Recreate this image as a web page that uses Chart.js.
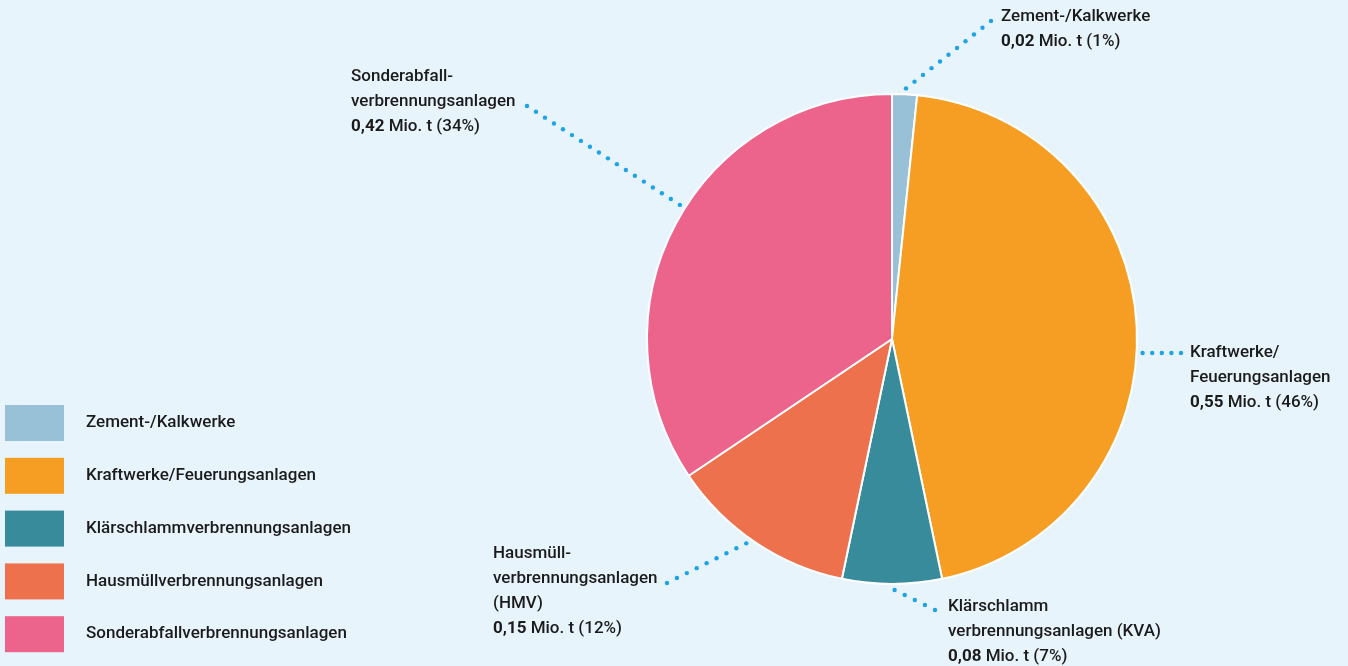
<!DOCTYPE html>
<html>
<head>
<meta charset="utf-8">
<script src="https://cdn.jsdelivr.net/npm/chart.js@4"></script>
<style>
  html, body { margin: 0; padding: 0; background: #e8f4fc; }
  #wrap { width: 1348px; height: 666px; position: relative; }
</style>
</head>
<body>
<div id="wrap"><canvas id="c" width="1348" height="666"></canvas></div>
<script>
// ---- data ----
const categories = ['Zement-/Kalkwerke', 'Kraftwerke/Feuerungsanlagen', 'Klärschlammverbrennungsanlagen', 'Hausmüllverbrennungsanlagen', 'Sonderabfallverbrennungsanlagen'];
const values = [0.02, 0.55, 0.08, 0.15, 0.42];           // Mio. t
const valueLabels = ['0,02', '0,55', '0,08', '0,15', '0,42'];
const percentLabels = ['1%', '46%', '7%', '12%', '34%'];
const calloutNames = [
  ['Zement-/Kalkwerke'],
  ['Kraftwerke/', 'Feuerungsanlagen'],
  ['Klärschlamm', 'verbrennungsanlagen (KVA)'],
  ['Hausmüll-', 'verbrennungsanlagen', '(HMV)'],
  ['Sonderabfall-', 'verbrennungsanlagen']
];
const unitText = ' Mio. t';

// ---- styles / layout ----
const colors = ['#98c1d8', '#f59e23', '#378b9b', '#ed714d', '#ec648c'];
const textColor = '#1b1b1b';
const dotColor = '#1ba4e6';
const FONT = 'Roboto, "Liberation Sans", Arial, sans-serif';
const FS = 17;
// callout layout: text position (left x, first line middle y), leader end point,
// and leader start angle (degrees clockwise from 12 o'clock)
const calloutLayout = [
  { tx: 1001, ty: 17,  ex: 991, ey: 21,  a: 3.2 },
  { tx: 1190, ty: 353, ex: 1181, ey: 353, a: 93.2 },
  { tx: 948,  ty: 607, ex: 935, ey: 610, a: 179.4 },
  { tx: 493,  ty: 554, ex: 667, ey: 583, a: 215.5 },
  { tx: 351,  ty: 77,  ex: 527, ey: 106, a: 302.3 }
];
const lineH = 25;

const calloutPlugin = {
  id: 'callouts',
  afterDatasetsDraw(chart) {
    const ctx = chart.ctx;
    const meta = chart.getDatasetMeta(0);
    ctx.save();
    meta.data.forEach((arc, i) => {
      const p = arc.getProps(['x', 'y', 'outerRadius'], true);
      const L = calloutLayout[i];
      const ang = (L.a - 90) * Math.PI / 180;
      const r0 = p.outerRadius + 6;
      const sx = p.x + Math.cos(ang) * r0;
      const sy = p.y + Math.sin(ang) * r0;
      // dotted leader
      const dx = L.ex - sx, dy = L.ey - sy;
      const len = Math.hypot(dx, dy);
      const n = Math.max(1, Math.round(len / 10.5));
      ctx.fillStyle = dotColor;
      for (let k = 0; k <= n; k++) {
        ctx.beginPath();
        ctx.arc(sx + dx * k / n, sy + dy * k / n, 2.2, 0, Math.PI * 2);
        ctx.fill();
      }
      // text
      ctx.fillStyle = textColor;
      ctx.textBaseline = 'middle';
      ctx.textAlign = 'left';
      ctx.font = '500 ' + FS + 'px ' + FONT;
      const lines = calloutNames[i];
      lines.forEach((t, j) => ctx.fillText(t, L.tx, L.ty + j * lineH));
      const vy = L.ty + lines.length * lineH;
      ctx.font = '700 ' + FS + 'px ' + FONT;
      ctx.fillText(valueLabels[i], L.tx, vy);
      const w = ctx.measureText(valueLabels[i]).width;
      ctx.font = '500 ' + FS + 'px ' + FONT;
      ctx.fillText(unitText + ' (' + percentLabels[i] + ')', L.tx + w, vy);
    });
    ctx.restore();
  }
};

const legendPlugin = {
  id: 'boxLegend',
  afterDraw(chart) {
    const ctx = chart.ctx;
    ctx.save();
    categories.forEach((name, i) => {
      const y = 405 + i * 52.8;
      ctx.fillStyle = colors[i];
      ctx.fillRect(5, y, 59, 36);
      ctx.fillStyle = textColor;
      ctx.font = '500 ' + FS + 'px ' + FONT;
      ctx.textBaseline = 'middle';
      ctx.fillText(name, 86, y + 18);
    });
    ctx.restore();
  }
};

new Chart(document.getElementById('c'), {
  type: 'pie',
  data: {
    labels: categories,
    datasets: [{
      data: values,
      backgroundColor: colors,
      borderColor: '#ffffff',
      borderWidth: 2
    }]
  },
  options: {
    responsive: false,
    animation: false,
    layout: { padding: { left: 646, right: 210, top: 93, bottom: 81 } },
    plugins: { legend: { display: false }, tooltip: { enabled: false } }
  },
  plugins: [calloutPlugin, legendPlugin]
});
</script>
</body>
</html>
